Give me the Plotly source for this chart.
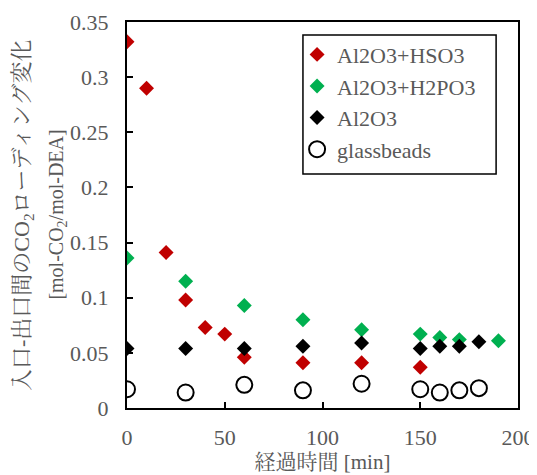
import plotly.graph_objects as go

# Data
x_hso3 = [0, 10, 20, 30, 40, 50, 60, 90, 120, 150]
y_hso3 = [0.332, 0.290, 0.141, 0.098, 0.073, 0.067, 0.046, 0.041, 0.041, 0.037]

x_h2po3 = [0, 30, 60, 90, 120, 150, 160, 170, 190]
y_h2po3 = [0.136, 0.115, 0.093, 0.080, 0.071, 0.067, 0.064, 0.062, 0.061]

x_al2o3 = [0, 30, 60, 90, 120, 150, 160, 170, 180]
y_al2o3 = [0.054, 0.054, 0.054, 0.056, 0.059, 0.054, 0.056, 0.056, 0.060]

x_glass = [0, 30, 60, 90, 120, 150, 160, 170, 180]
y_glass = [0.017, 0.014, 0.021, 0.016, 0.022, 0.017, 0.014, 0.016, 0.018]

names = ["Al2O3+HSO3", "Al2O3+H2PO3", "Al2O3", "glassbeads"]
x_ticks = [0, 50, 100, 150, 200]
y_ticks = [0, 0.05, 0.1, 0.15, 0.2, 0.25, 0.3, 0.35]
y_tick_text = ["0", "0.05", "0.1", "0.15", "0.2", "0.25", "0.3", "0.35"]
y_title_1 = "入口-出口間のCO<sub>2</sub>ローディング変化"
y_title_2 = "[mol-CO<sub>2</sub>/mol-DEA]"
x_title = "経過時間 [min]"

FONT = "Liberation Serif, Noto Serif CJK JP, Noto Sans CJK JP, serif"
GREY = "#595959"

fig = go.Figure()
fig.add_trace(go.Scatter(x=x_hso3, y=y_hso3, mode="markers", name=names[0], legendgroup="a",
                         marker=dict(symbol="diamond", size=11.5, color="#C00000")))
fig.add_trace(go.Scatter(x=x_h2po3, y=y_h2po3, mode="markers", name=names[1], legendgroup="b",
                         marker=dict(symbol="diamond", size=11.5, color="#00B050")))
fig.add_trace(go.Scatter(x=x_al2o3, y=y_al2o3, mode="markers", name=names[2], legendgroup="c",
                         marker=dict(symbol="diamond", size=11.5, color="#000000")))
fig.add_trace(go.Scatter(x=x_glass, y=y_glass, mode="markers", name=names[3], legendgroup="d",
                         marker=dict(symbol="circle-open", size=16, color="#000000",
                                     line=dict(width=2, color="#000000"))))

# the page body adds an 8px offset; the figure is sized to fill the rest of the window
fig.update_layout(
    width=529, height=467,
    margin=dict(l=119, r=19, t=14, b=67, autoexpand=False),
    paper_bgcolor="white", plot_bgcolor="white",
    font=dict(family=FONT, size=22, color=GREY),
    showlegend=True,
    legend=dict(x=0.435, y=0.970, xanchor="left", yanchor="top",
                borderwidth=0, bgcolor="rgba(0,0,0,0)",
                font=dict(family=FONT, size=22, color=GREY),
                tracegroupgap=0, itemsizing="trace", itemwidth=30),
    xaxis=dict(range=[0, 200], tickvals=x_ticks, ticks="inside", ticklen=6,
               tickcolor="black", tickwidth=1.5, automargin=False,
               showline=True, linecolor="black", linewidth=2, mirror=True,
               showgrid=False, zeroline=False, ticklabelstandoff=9,
               tickfont=dict(family=FONT, size=22, color=GREY),
               title=dict(text=x_title, font=dict(family=FONT, size=21, color=GREY),
                          standoff=0)),
    yaxis=dict(range=[0, 0.35], tickvals=y_ticks, ticktext=y_tick_text, ticks="inside", ticklen=6,
               tickcolor="black", tickwidth=1.5, automargin=False,
               showline=True, linecolor="black", linewidth=2, mirror=True,
               showgrid=False, zeroline=False, ticklabelstandoff=12,
               tickfont=dict(family=FONT, size=22, color=GREY)),
    shapes=[dict(type="rect", xref="paper", yref="paper",
                 x0=0.450, x1=0.944, y0=0.606, y1=0.966,
                 line=dict(color="black", width=1.5), fillcolor="rgba(0,0,0,0)", layer="above")],
    annotations=[
        dict(text=y_title_1, xref="paper", yref="paper", x=-0.266, y=0.5,
             xanchor="center", yanchor="middle", textangle=-90, showarrow=False,
             font=dict(family=FONT, size=22, color=GREY)),
        dict(text=y_title_2, xref="paper", yref="paper", x=-0.18, y=0.5,
             xanchor="center", yanchor="middle", textangle=-90, showarrow=False,
             font=dict(family=FONT, size=20, color=GREY)),
    ],
)

fig.write_html("out.html")
